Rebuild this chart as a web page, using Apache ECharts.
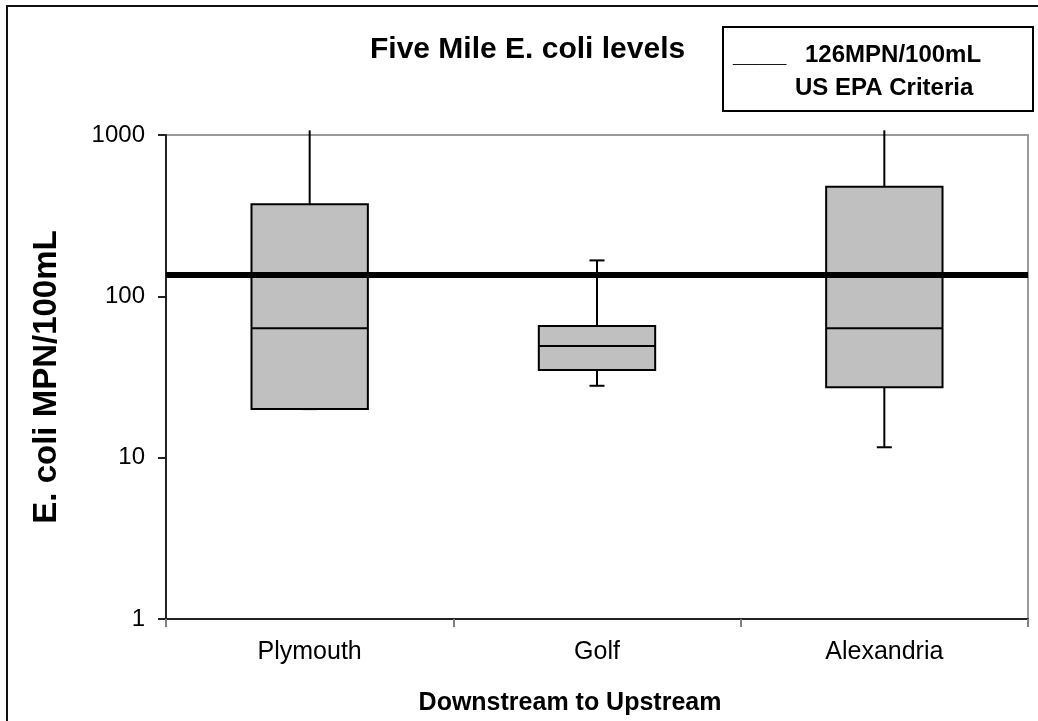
<!DOCTYPE html>
<html>
<head>
<meta charset="utf-8">
<style>html,body{margin:0;padding:0;background:#fff;}#c{width:1038px;height:721px;}</style>
<script src="https://cdn.jsdelivr.net/npm/echarts@6/dist/echarts.min.js"></script>
</head>
<body>
<div id="c"></div>
<script>
var categories = ['Plymouth', 'Golf', 'Alexandria'];
var whiskerLow = [20, 27.9, 11.6];
var quartile1 = [20, 35, 27.3];
var medians = [63.3, 49.2, 63.3];
var quartile3 = [372, 65.4, 478];
var whiskerHigh = [1069, 167, 1069];
var criteriaValue = [136];
var yTicks = [1, 10, 100, 1000];

var FONT = 'Liberation Sans, Arial, sans-serif';
var yMin = yTicks[0], yMax = yTicks[yTicks.length - 1];

var boxData = categories.map(function (c, i) {
  return [i, whiskerLow[i], quartile1[i], medians[i], quartile3[i], whiskerHigh[i]];
});

function renderBox(params, api) {
  var i = api.value(0);
  var pLow = api.coord([i, api.value(1)]);
  var pQ1 = api.coord([i, api.value(2)]);
  var pMed = api.coord([i, api.value(3)]);
  var pQ3 = api.coord([i, api.value(4)]);
  var pHigh = api.coord([i, api.value(5)]);
  var band = api.size([1, 0])[0];
  var w = band * 0.405;
  var cap = 15;
  var x = pMed[0];
  var ls = {stroke: '#000', lineWidth: 2};
  var children = [];
  children.push({type: 'line', shape: {x1: x, y1: pQ3[1], x2: x, y2: pHigh[1]}, style: ls});
  children.push({type: 'line', shape: {x1: x, y1: pQ1[1], x2: x, y2: pLow[1]}, style: ls});
  if (api.value(5) <= yMax) children.push({type: 'line', shape: {x1: x - cap / 2, y1: pHigh[1], x2: x + cap / 2, y2: pHigh[1]}, style: ls});
  if (api.value(1) >= yMin) children.push({type: 'line', shape: {x1: x - cap / 2, y1: pLow[1], x2: x + cap / 2, y2: pLow[1]}, style: ls});
  children.push({type: 'rect', shape: {x: x - w / 2, y: pQ3[1], width: w, height: pQ1[1] - pQ3[1]}, style: {fill: '#c0c0c0', stroke: '#000', lineWidth: 2}});
  children.push({type: 'line', shape: {x1: x - w / 2, y1: pMed[1], x2: x + w / 2, y2: pMed[1]}, style: ls});
  return {type: 'group', children: children};
}

var chart = echarts.init(document.getElementById('c'));
chart.setOption({
  backgroundColor: '#fff',
  animation: false,
  title: {
    text: 'Five Mile E. coli levels',
    left: 370, top: 35, padding: 0,
    textStyle: {fontFamily: FONT, fontSize: 30, fontWeight: 'bold', color: '#000'}
  },
  grid: {left: 166, top: 135, right: 10, bottom: 100, show: true, borderColor: '#999', borderWidth: 2, backgroundColor: '#fff'},
  xAxis: {
    type: 'category',
    data: categories,
    boundaryGap: true,
    name: 'Downstream to Upstream',
    nameLocation: 'middle',
    nameGap: 72,
    nameTextStyle: {fontFamily: FONT, fontSize: 25, fontWeight: 'bold', color: '#000', padding: [0, 54, 0, 0]},
    axisLine: {lineStyle: {color: '#222', width: 2}},
    axisTick: {show: true, length: 8, lineStyle: {color: '#808080', width: 2}},
    axisLabel: {fontFamily: FONT, fontSize: 25, color: '#000', margin: 21},
    splitLine: {show: false}
  },
  yAxis: {
    type: 'log',
    logBase: 10,
    min: yMin, max: yMax,
    name: 'E. coli MPN/100mL',
    nameLocation: 'middle',
    nameRotate: 90,
    nameGap: 103,
    nameTextStyle: {fontFamily: FONT, fontSize: 33, fontWeight: 'bold', color: '#000'},
    axisLine: {show: true, lineStyle: {color: '#222', width: 2}},
    axisTick: {show: true, length: 8, lineStyle: {color: '#222', width: 2}},
    axisLabel: {fontFamily: FONT, fontSize: 24, color: '#000', margin: 21, formatter: function (v) { return String(Math.round(v)); }},
    splitLine: {show: false}
  },
  series: [
    {
      type: 'custom',
      clip: false,
      renderItem: renderBox,
      encode: {x: 0, y: [1, 2, 3, 4, 5]},
      data: boxData,
      z: 2
    },
    {
      type: 'line',
      data: [],
      z: 5,
      markLine: {
        silent: true,
        symbol: 'none',
        label: {show: false},
        lineStyle: {color: '#000', width: 6, type: 'solid'},
        data: criteriaValue.map(function (v) { return {yAxis: v}; })
      }
    }
  ],
  graphic: [
    {type: 'rect', shape: {x: 7, y: 6, width: 1200, height: 900}, style: {fill: null, stroke: '#111', lineWidth: 2}, z: 0},
    {type: 'rect', shape: {x: 723, y: 27, width: 310, height: 84}, style: {fill: '#fff', stroke: '#000', lineWidth: 2}, z: 10},
    {type: 'text', x: 733, y: 55, style: {text: '____', font: 'bold 24px ' + FONT, fill: '#000', textVerticalAlign: 'middle'}, z: 11},
    {type: 'text', x: 805, y: 55, style: {text: '126MPN/100mL', font: 'bold 24px ' + FONT, fill: '#000', textVerticalAlign: 'middle'}, z: 11},
    {type: 'text', x: 795, y: 88, style: {text: 'US EPA Criteria', font: 'bold 24px ' + FONT, fill: '#000', textVerticalAlign: 'middle'}, z: 11}
  ]
});
</script>
</body>
</html>
